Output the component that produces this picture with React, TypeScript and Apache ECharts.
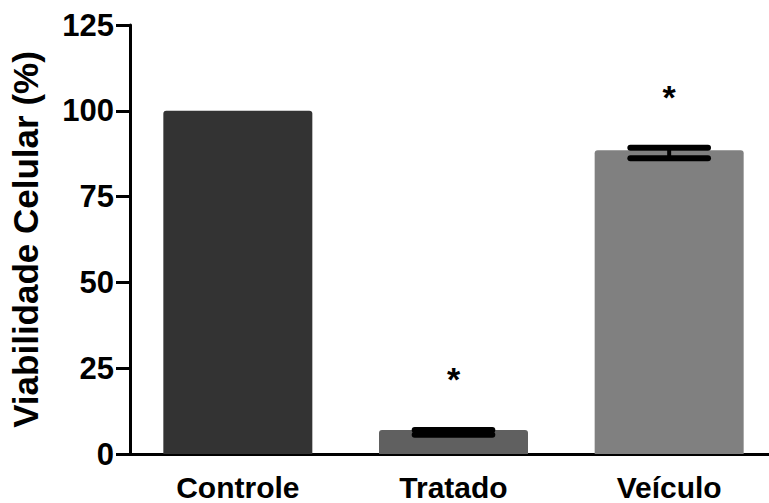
import React, { useEffect, useRef } from "react";
import * as echarts from "echarts";

const categories = ["Controle", "Tratado", "Veículo"];
const means = [100, 7.0, 88.5];
const errLow: (number | null)[] = [null, 5.6, 86.2];
const errHigh: (number | null)[] = [null, 7.0, 89.2];
const significance = ["", "*", "*"];
const barColors = ["#333333", "#606060", "#808080"];
const yTicks = { min: 0, max: 125, interval: 25 };
const yTitle = "Viabilidade Celular (%)";

const FONT = "'Liberation Sans', Arial, sans-serif";

export default function App() {
  const ref = useRef<HTMLDivElement>(null);
  useEffect(() => {
    if (!ref.current) return;
    const chart = echarts.init(ref.current, undefined, { renderer: "svg" });
    const errData = categories
      .map((_, i) => [i, errLow[i], errHigh[i], significance[i]])
      .filter((d) => d[1] !== null);
    chart.setOption({
      animation: false,
      backgroundColor: "#ffffff",
      grid: { left: 129, right: 0, top: 25, bottom: 49 },
      xAxis: {
        type: "category",
        data: categories,
        axisLine: { lineStyle: { color: "#000", width: 3 } },
        axisTick: { alignWithLabel: true, length: 12, lineStyle: { color: "#000", width: 3 } },
        axisLabel: { color: "#000", fontSize: 30, lineHeight: 28, fontWeight: "bold", fontFamily: FONT, margin: 19 },
      },
      yAxis: {
        type: "value",
        min: yTicks.min,
        max: yTicks.max,
        interval: yTicks.interval,
        name: yTitle,
        nameLocation: "middle",
        nameGap: 87,
        nameTextStyle: { color: "#000", fontSize: 35, fontWeight: "bold", fontFamily: FONT },
        splitLine: { show: false },
        axisLine: { show: true, lineStyle: { color: "#000", width: 3 } },
        axisTick: { show: true, length: 14, lineStyle: { color: "#000", width: 3 } },
        axisLabel: { color: "#000", fontSize: 31, fontWeight: "bold", fontFamily: FONT, margin: 16 },
      },
      series: [
        {
          type: "bar",
          data: means.map((v, i) => ({ value: v, itemStyle: { color: barColors[i] } })),
          barWidth: 149,
          itemStyle: { borderRadius: [3, 3, 0, 0] },
          z: 2,
        },
        {
          type: "custom",
          z: 5,
          data: errData,
          renderItem: (params: any, api: any) => {
            const idx = api.value(0);
            const hi = api.coord([idx, api.value(2)]);
            const lo = api.coord([idx, api.value(1)]);
            const band = api.size([1, 0])[0];
            const half = band * 0.36 / 2;
            const star = significance[idx];
            const style = { stroke: "#000", lineWidth: 6, lineCap: "round" };
            return {
              type: "group",
              children: [
                { type: "line", shape: { x1: hi[0], y1: hi[1], x2: lo[0], y2: lo[1] }, style: { stroke: "#000", lineWidth: 4 } },
                { type: "line", shape: { x1: hi[0] - half, y1: hi[1], x2: hi[0] + half, y2: hi[1] }, style },
                { type: "line", shape: { x1: lo[0] - half, y1: lo[1], x2: lo[0] + half, y2: lo[1] }, style },
                {
                  type: "text",
                  style: {
                    text: star,
                    x: hi[0],
                    y: hi[1] - 51,
                    fill: "#000",
                    fontSize: 34,
                    fontWeight: "bold",
                    fontFamily: FONT,
                    align: "center",
                    verticalAlign: "middle",
                  },
                },
              ],
            };
          },
        },
      ],
    });
    return () => chart.dispose();
  }, []);
  return (
    <div style={{ position: "absolute", left: 0, top: 0, width: 769, height: 503, overflow: "hidden", background: "#fff" }}>
      <div ref={ref} style={{ position: "absolute", left: 0, top: 0, width: 777, height: 503 }} />
    </div>
  );
}
